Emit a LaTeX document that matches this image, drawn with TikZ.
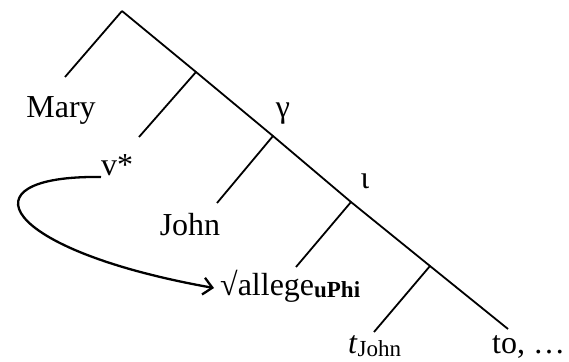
\documentclass[tikz,border=0pt]{standalone}
\usepackage{fontspec}
\setmainfont{Liberation Serif}
\usetikzlibrary{arrows.meta}
\newcommand\lowsub[2]{\raisebox{-#1}{\fontsize{23}{24}\selectfont #2}}
\begin{document}
\begin{tikzpicture}[x=1pt,y=-1pt,
  edge/.style={line width=1.8pt},
  lbl/.style={inner sep=0pt,anchor=base,font=\fontsize{32}{38}\selectfont},
  mv/.style={line width=2.3pt,-{Straight Barb[length=9pt,width=17pt,line width=2.3pt]}}]
\useasboundingbox (0,0) rectangle (569,361);
% tree points
\coordinate (r) at (122,11);
\coordinate (n1) at (196,72);
\coordinate (n2) at (273,136);
\coordinate (n3) at (351,202);
\coordinate (n4) at (430,266);
\coordinate (e) at (508,329);
\coordinate (l0) at (65,77);
\coordinate (l1) at (139,137);
\coordinate (l2) at (217,203);
\coordinate (l3) at (296,267);
\coordinate (l4) at (374,332);
\draw[edge] (r) -- (n1) -- (n2) -- (n3) -- (n4) -- (e);
\draw[edge] (r) -- (l0);
\draw[edge] (n1) -- (l1);
\draw[edge] (n2) -- (l2);
\draw[edge] (n3) -- (l3);
\draw[edge] (n4) -- (l4);
% labels
\node[lbl] (mary) at (61,117) {Mary};
\node[lbl] (vstar) at (117,175) {v*};
\node[lbl] (gamma) at (283,117) {γ};
\node[lbl] (john) at (190,235) {John};
\node[lbl] (iota) at (365,188) {ι};
\node[lbl,anchor=base west] (allege) at (220,295) {√allege\lowsub{2pt}{\textbf{uPhi}}};
\node[lbl,anchor=base west] (tjohn) at (348,353) {\textit{t}\lowsub{3pt}{John}};
\node[lbl,anchor=base west] (to) at (492,353) {to, …};
% movement arrow
\coordinate (a1) at (101,177);
\coordinate (a2) at (214,288);
\draw[mv] (a1) .. controls (-40,175) and (0,250) .. (a2);
\end{tikzpicture}
\end{document}
